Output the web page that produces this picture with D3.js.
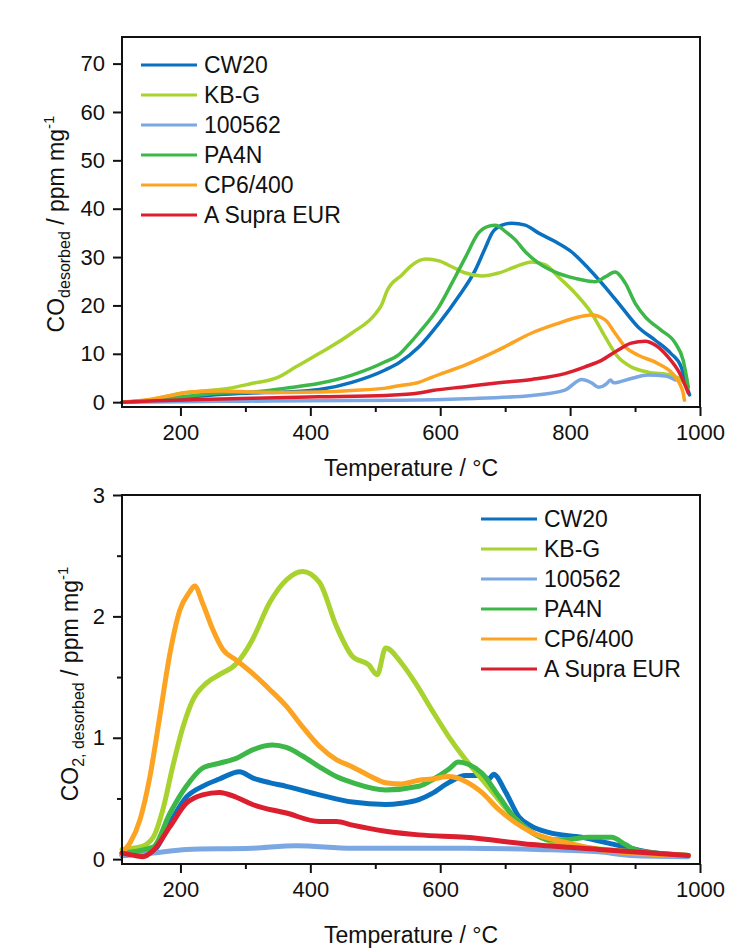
<!DOCTYPE html>
<html>
<head>
<meta charset="utf-8">
<script src="https://cdn.jsdelivr.net/npm/d3@7"></script>
<style>
  body { margin: 0; background: #fff; }
  text { font-family: "Liberation Sans", Arial, sans-serif; fill: #111; }
</style>
</head>
<body>
<svg width="732" height="948"></svg>
<script>
// sample names, legend order
const names = ["CW20", "KB-G", "100562", "PA4N", "CP6/400", "A Supra EUR"];
const colors = ["#0a70c0", "#a8d22e", "#7ba8e2", "#3db748", "#fca321", "#dc1f2e"];

// CO desorbed  [temperature, ppm/mg]
const coCW20 = [[110,0],[150,0.3],[215,1.1],[260,1.6],[311,1.9],[362,2.1],[414,2.6],[464,4.1],[516,6.7],[537,8.2],[567,11.4],[598,16.3],[628,21.8],[654,27.3],[670,32.1],[680,35.0],[695,36.6],[710,37.0],[731,36.6],[751,35.0],[777,33.2],[802,31.1],[828,27.7],[854,23.8],[879,19.7],[905,15.5],[931,12.8],[955,10.1],[971,7.3],[980,3.0],[984,1.5]];
const coKBG = [[110,0],[150,0.4],[199,1.8],[234,2.3],[276,2.9],[311,3.9],[348,5.0],[378,7.3],[414,10.1],[464,14.3],[501,18.4],[510,20.2],[518,23.0],[541,26.3],[557,28.4],[578,29.6],[598,29.2],[618,28.0],[639,26.7],[664,26.1],[690,26.7],[716,28.0],[741,29.0],[762,28.4],[782,25.9],[808,22.5],[833,18.4],[854,13.5],[874,9.3],[894,7.3],[920,6.2],[955,5.6],[971,4.6],[982,3.0]];
const co100562 = [[110,0],[200,0.1],[300,0.2],[400,0.3],[537,0.4],[639,0.7],[741,1.4],[792,2.5],[818,4.7],[833,4.0],[844,3.1],[857,3.9],[862,4.6],[867,4.0],[894,4.9],[920,5.6],[946,5.4],[962,4.6]];
const coPA4N = [[110,0],[150,0.3],[215,1.3],[260,1.9],[311,2.1],[362,2.9],[414,3.9],[464,5.6],[516,8.4],[537,9.9],[552,12.0],[567,14.3],[598,19.7],[618,24.6],[639,30.0],[659,35.0],[675,36.4],[685,36.6],[701,35.2],[716,33.5],[731,31.1],[751,28.8],[777,26.9],[808,25.6],[839,24.9],[854,25.9],[869,26.9],[885,24.6],[900,20.5],[916,17.6],[940,14.9],[962,12.2],[974,8.7],[982,3.1]];
const coCP6 = [[110,0],[150,0.5],[190,1.5],[215,2.1],[266,2.3],[311,2.1],[362,2.0],[414,2.1],[464,2.4],[516,2.9],[537,3.4],[567,4.1],[588,5.2],[639,7.7],[690,10.8],[741,14.3],[782,16.3],[813,17.6],[833,18.0],[854,17.0],[869,14.3],[885,11.4],[905,9.7],[935,8.0],[962,5.2],[974,1.9],[976,0.4]];
const coSupra = [[110,0],[160,0.3],[215,0.5],[311,0.8],[414,1.1],[516,1.4],[567,1.9],[588,2.4],[639,3.2],[690,4.0],[741,4.7],[792,5.9],[823,7.3],[849,8.7],[874,10.8],[894,12.2],[916,12.6],[931,11.8],[951,9.3],[969,5.9],[982,1.9]];

// CO2 desorbed  [temperature, ppm/mg]
const co2CW20 = [[110,0.03],[158,0.07],[184,0.30],[209,0.51],[234,0.60],[260,0.66],[291,0.72],[311,0.67],[337,0.63],[363,0.60],[414,0.53],[465,0.47],[516,0.45],[540,0.46],[567,0.49],[587,0.54],[613,0.63],[639,0.69],[664,0.69],[675,0.66],[682,0.70],[701,0.55],[721,0.35],[741,0.27],[767,0.22],[818,0.18],[869,0.12],[920,0.06],[982,0.03]];
const co2KBG = [[110,0.08],[138,0.10],[158,0.18],[173,0.41],[188,0.76],[204,1.09],[219,1.31],[240,1.45],[260,1.52],[286,1.61],[311,1.81],[337,2.11],[363,2.30],[388,2.37],[414,2.28],[440,1.92],[465,1.67],[490,1.60],[503,1.52],[516,1.74],[541,1.61],[562,1.45],[587,1.23],[613,1.01],[639,0.82],[664,0.66],[690,0.49],[716,0.33],[741,0.22],[767,0.15],[820,0.10],[900,0.06],[982,0.03]];
const co2_100562 = [[110,0.03],[158,0.05],[209,0.08],[311,0.09],[378,0.11],[465,0.09],[567,0.09],[639,0.09],[750,0.08],[844,0.06],[894,0.03],[982,0.02]];
const co2PA4N = [[110,0.05],[158,0.10],[184,0.38],[209,0.60],[234,0.75],[260,0.79],[286,0.83],[311,0.90],[342,0.94],[363,0.92],[388,0.85],[414,0.76],[440,0.68],[465,0.63],[516,0.57],[567,0.60],[590,0.66],[613,0.74],[628,0.80],[644,0.78],[664,0.71],[690,0.52],[716,0.33],[741,0.22],[767,0.16],[792,0.16],[828,0.18],[864,0.18],[885,0.12],[905,0.07],[982,0.03]];
const co2CP6 = [[110,0.05],[122,0.13],[138,0.33],[153,0.68],[168,1.17],[184,1.70],[199,2.05],[214,2.20],[222,2.25],[234,2.11],[250,1.89],[265,1.73],[286,1.64],[311,1.53],[337,1.40],[363,1.26],[388,1.09],[414,0.93],[440,0.82],[465,0.76],[490,0.69],[516,0.63],[541,0.62],[567,0.65],[587,0.66],[613,0.68],[639,0.64],[664,0.55],[690,0.41],[716,0.30],[741,0.22],[792,0.14],[844,0.08],[894,0.05],[982,0.03]];
const co2Supra = [[110,0.05],[130,0.03],[142,0.02],[158,0.07],[184,0.27],[209,0.46],[234,0.53],[260,0.55],[286,0.51],[311,0.45],[363,0.38],[414,0.31],[440,0.31],[465,0.28],[516,0.23],[567,0.20],[639,0.18],[741,0.12],[844,0.08],[982,0.03]];

const xTicks = [200, 400, 600, 800, 1000];
const xMinor = [300, 500, 700, 900];
const coTicks = [0, 10, 20, 30, 40, 50, 60, 70];
const co2Ticks = [0, 1, 2, 3];
const co2Minor = [0.5, 1.5, 2.5];

const svg = d3.select("svg");

function panel(opt) {
  const x = d3.scaleLinear().domain([110, 1000]).range([122, 700]);
  const y = d3.scaleLinear().domain(opt.yDomain).range([opt.bottom, opt.top]);
  const g = svg.append("g");

  const line = d3.line()
    .x(d => x(d[0]))
    .y(d => y(d[1]))
    .curve(d3.curveMonotoneX);

  g.selectAll("path.series")
    .data(opt.series)
    .join("path")
    .attr("class", "series")
    .attr("d", d => line(d))
    .attr("fill", "none")
    .attr("stroke", (d, i) => colors[i])
    .attr("stroke-width", opt.lw)
    .attr("stroke-linejoin", "round")
    .attr("stroke-linecap", "round");

  // frame
  g.append("rect")
    .attr("x", 122).attr("y", opt.top)
    .attr("width", 578).attr("height", opt.bottom - opt.top)
    .attr("fill", "none").attr("stroke", "#111").attr("stroke-width", 2);

  // x axis
  g.append("g").attr("transform", `translate(0,${opt.bottom})`)
    .call(d3.axisBottom(x).tickValues(xTicks).tickSize(9).tickPadding(8).tickFormat(d3.format("d")));
  g.append("g").attr("transform", `translate(0,${opt.bottom})`)
    .call(d3.axisBottom(x).tickValues(xMinor).tickSize(5).tickFormat(""));

  // y axis
  g.append("g").attr("transform", "translate(122,0)")
    .call(d3.axisLeft(y).tickValues(opt.yTicks).tickSize(9).tickPadding(8).tickFormat(d3.format("d")));
  if (opt.yMinor) {
    g.append("g").attr("transform", "translate(122,0)")
      .call(d3.axisLeft(y).tickValues(opt.yMinor).tickSize(5).tickFormat(""));
  }
  g.selectAll(".domain").remove();
  g.selectAll(".tick line").attr("stroke", "#111").attr("stroke-width", 2);
  g.selectAll(".tick text").attr("font-size", 22).attr("fill", "#111")
    .style("font-family", '"Liberation Sans", Arial, sans-serif');

  // x title
  g.append("text")
    .attr("x", 411).attr("y", opt.xTitleY)
    .attr("text-anchor", "middle").attr("font-size", 23)
    .text("Temperature / °C");

  // legend
  const leg = g.append("g");
  names.forEach((n, i) => {
    const ly = opt.legY + i * 30;
    leg.append("line")
      .attr("x1", opt.legX).attr("x2", opt.legX + 56)
      .attr("y1", ly).attr("y2", ly)
      .attr("stroke", colors[i]).attr("stroke-width", 3);
    leg.append("text")
      .attr("x", opt.legX + 63).attr("y", ly)
      .attr("dy", "0.36em").attr("font-size", 23)
      .text(n);
  });
  return g;
}

panel({
  series: [coCW20, coKBG, co100562, coPA4N, coCP6, coSupra],
  yDomain: [-1, 75.5], top: 37, bottom: 407,
  yTicks: coTicks, lw: 3.5,
  xTitleY: 476, legX: 141, legY: 65
});

panel({
  series: [co2CW20, co2KBG, co2_100562, co2PA4N, co2CP6, co2Supra],
  yDomain: [-0.04, 3], top: 495, bottom: 864,
  yTicks: co2Ticks, yMinor: co2Minor, lw: 5,
  xTitleY: 943, legX: 481, legY: 519
});

// y titles with sub/superscripts
const t1 = svg.append("text")
  .attr("transform", "translate(64,224) rotate(-90)")
  .attr("text-anchor", "middle").attr("font-size", 23);
t1.append("tspan").text("CO");
t1.append("tspan").attr("font-size", 16).attr("dy", 6).text("desorbed");
t1.append("tspan").attr("dy", -6).text(" / ppm mg");
t1.append("tspan").attr("font-size", 15).attr("dy", -10).text("-1");

const t2 = svg.append("text")
  .attr("transform", "translate(78,684) rotate(-90)")
  .attr("text-anchor", "middle").attr("font-size", 23);
t2.append("tspan").text("CO");
t2.append("tspan").attr("font-size", 16).attr("dy", 6).text("2, desorbed");
t2.append("tspan").attr("dy", -6).text(" / ppm mg");
t2.append("tspan").attr("font-size", 15).attr("dy", -10).text("-1");
</script>
</body>
</html>
